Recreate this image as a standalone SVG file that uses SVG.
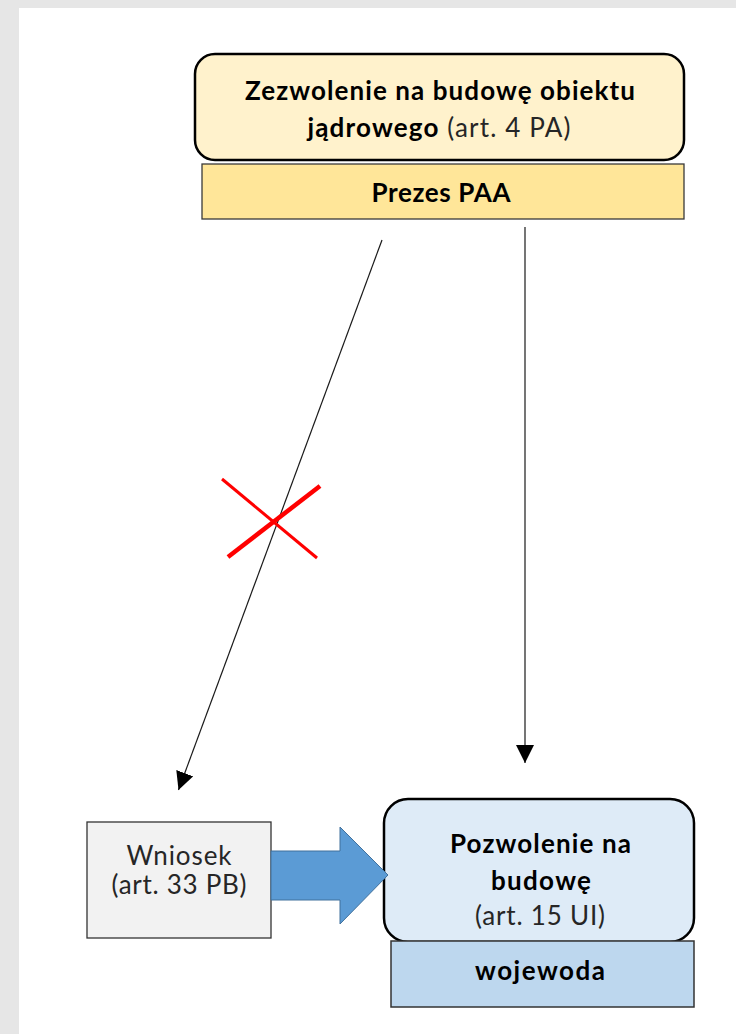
<svg xmlns="http://www.w3.org/2000/svg" width="736" height="1034" viewBox="0 0 736 1034">
<defs>
<style>
.t{font-family:Lato,"Open Sans","Liberation Sans",sans-serif;font-size:26px;fill:#000;text-anchor:middle}
.b{font-weight:bold}
.r{font-weight:normal;fill:#262626}
.conn{stroke:#1a1a1a;stroke-width:1.2;fill:none}
</style>
<marker id="ah" viewBox="0 0 10 10" refX="10" refY="5" markerWidth="18" markerHeight="18" markerUnits="userSpaceOnUse" orient="auto">
<path d="M0,0 L10,5 L0,10 z" fill="#000"/>
</marker>
</defs>
<rect x="0" y="0" width="736" height="1034" fill="#e6e6e6"/>
<rect x="19" y="8" width="717" height="1026" fill="#ffffff"/>

<g id="zezwolenie">
<rect x="195" y="54" width="489" height="106" rx="20" ry="20" fill="#fff2cc" stroke="#000" stroke-width="2.5"/>
<text class="t b" x="440" y="100" textLength="390">Zezwolenie na budowę obiektu</text>
<text class="t" x="439" y="137" textLength="263"><tspan class="b">jądrowego</tspan><tspan class="r"> (art. 4 PA)</tspan></text>
</g>
<g id="prezes">
<rect x="202" y="164" width="482" height="55" fill="#ffe699" stroke="#3a3a3a" stroke-width="1.3"/>
<text class="t b" x="441" y="202" textLength="139">Prezes PAA</text>
</g>

<g id="connectors">
<line class="conn" x1="382" y1="240" x2="178.5" y2="790" marker-end="url(#ah)"/>
<line class="conn" x1="525" y1="227" x2="525" y2="763" marker-end="url(#ah)"/>
</g>

<g id="cross">
<line x1="222" y1="479" x2="317" y2="558" stroke="#ff0000" stroke-width="3"/>
<line x1="228" y1="557" x2="320" y2="486" stroke="#ff0000" stroke-width="4.5"/>
</g>

<g id="wniosek">
<rect x="87" y="822" width="184" height="116" fill="#f2f2f2" stroke="#333" stroke-width="1.3"/>
<text class="t r" x="179" y="865" textLength="105">Wniosek</text>
<text class="t r" x="179" y="894" textLength="135">(art. 33 PB)</text>
</g>

<g id="pozwolenie">
<rect x="384" y="799" width="310" height="143" rx="24" ry="24" fill="#deebf7" stroke="#000" stroke-width="2.5"/>
<text class="t b" x="540.5" y="853" textLength="181">Pozwolenie na</text>
<text class="t b" x="541" y="890" textLength="100">budowę</text>
<text class="t r" x="540" y="925" textLength="130">(art. 15 UI)</text>
</g>
<g id="wojewoda">
<rect x="391" y="941" width="303" height="66" fill="#bdd7ee" stroke="#333" stroke-width="1.5"/>
<text class="t b" x="540" y="980" textLength="130">wojewoda</text>
</g>

<g id="blue-arrow">
<polygon points="271,851 340,851 340,827 388,875 340,924 340,900 271,900" fill="#5b9bd5" stroke="#41719c" stroke-width="1"/>
</g>
</svg>
